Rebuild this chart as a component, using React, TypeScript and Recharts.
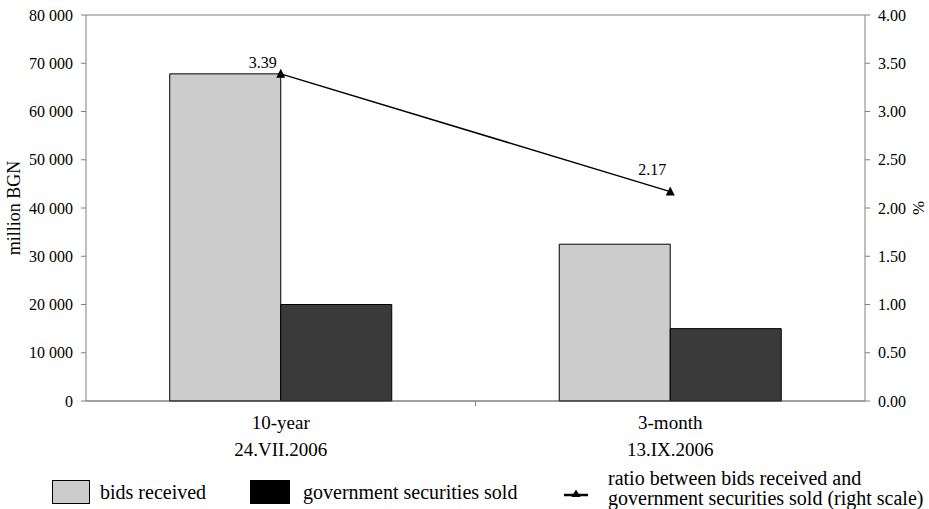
import { ComposedChart, Bar, Line, XAxis, YAxis, ReferenceLine, LabelList } from 'recharts';

const categories = ['10-year', '3-month'];
const auctionDates = ['24.VII.2006', '13.IX.2006'];
const bidsReceived = [67800, 32500];
const securitiesSold = [20000, 15000];
const bidRatio = [3.39, 2.17];
const leftTicks = [0, 10000, 20000, 30000, 40000, 50000, 60000, 70000, 80000];
const rightTicks = [0, 0.5, 1, 1.5, 2, 2.5, 3, 3.5, 4];

const data = categories.map((name, i) => ({
  name,
  date: auctionDates[i],
  bids: bidsReceived[i],
  sold: securitiesSold[i],
  ratio: bidRatio[i],
}));

const FONT = "'Liberation Serif', 'Times New Roman', Times, serif";
const AXIS_GREY = '#808080';

const fmtThousands = (v: number) => String(v).replace(/\B(?=(\d{3})+(?!\d))/g, ' ');

function CategoryTick(props: any) {
  const { x, y, payload, index, width } = props;
  const band = (width || 779) / categories.length;
  return (
    <g>
      {index === 0 && (
        <line x1={x + band / 2} x2={x + band / 2} y1={y} y2={y + 5} stroke={AXIS_GREY} />
      )}
      <text x={x} y={y + 28} textAnchor="middle" fontSize={19} style={{ fontFamily: FONT }} fill="#000">
        {payload.value}
      </text>
      <text x={x} y={y + 55} textAnchor="middle" fontSize={19} style={{ fontFamily: FONT }} fill="#000">
        {auctionDates[index]}
      </text>
    </g>
  );
}

function Triangle(props: any) {
  const { cx, cy } = props;
  if (cx == null || cy == null) return null;
  return <path d={`M${cx},${cy - 5}L${cx + 4.5},${cy + 4}L${cx - 4.5},${cy + 4}Z`} fill="#000" />;
}

const labelLift = [6, 17];

function RatioLabel(props: any) {
  const { x, y, value, index } = props;
  return (
    <text x={x - 18} y={y - labelLift[index]} textAnchor="middle" fontSize={16} style={{ fontFamily: FONT }} fill="#000">
      {Number(value).toFixed(2)}
    </text>
  );
}

function LegendBlock() {
  const txt: React.CSSProperties = { position: 'absolute', fontFamily: FONT, fontSize: 20, color: '#000', whiteSpace: 'nowrap', lineHeight: '20px' };
  return (
    <>
      <div style={{ position: 'absolute', left: 52, top: 480, width: 36, height: 22, background: '#cccccc', border: '1px solid #000' }} />
      <div style={{ ...txt, left: 100, top: 482 }}>bids received</div>
      <div style={{ position: 'absolute', left: 250, top: 480, width: 38, height: 22, background: '#000', border: '1px solid #000' }} />
      <div style={{ ...txt, left: 303, top: 482 }}>government securities sold</div>
      <svg style={{ position: 'absolute', left: 561, top: 486 }} width={30} height={16}>
        <line x1={3} x2={27} y1={9} y2={9} stroke="#000" strokeWidth={2.5} />
        <path d="M15,3.5L19.5,11L10.5,11Z" fill="#000" />
      </svg>
      <div style={{ ...txt, left: 608, top: 468 }}>ratio between bids received and</div>
      <div style={{ ...txt, left: 608, top: 488 }}>government securities sold (right scale)</div>
    </>
  );
}

export default function App() {
  return (
    <div style={{ position: 'absolute', left: 0, top: 0, width: 929, height: 509, background: '#fff', fontFamily: FONT }}>
      <ComposedChart
        width={929}
        height={509}
        data={data}
        margin={{ top: 15, right: 0, bottom: 48, left: 0 }}
        barCategoryGap="21.5%"
        barGap={0}
        style={{ fontFamily: FONT }}
      >
        <XAxis
          dataKey="name"
          height={60}
          stroke="#404040"
          tickLine={false}
          tickSize={0}
          tickMargin={0}
          tick={<CategoryTick />}
          interval={0}
        />
        <YAxis
          yAxisId="left"
          width={86}
          domain={[0, 80000]}
          ticks={leftTicks}
          tickFormatter={fmtThousands}
          stroke={AXIS_GREY}
          tickSize={5}
          tickMargin={8}
          tick={{ fill: '#000', fontSize: 16, style: { fontFamily: FONT } }}
          label={{ value: 'million BGN', angle: -90, position: 'insideLeft', offset: 0, dx: 14, style: { fill: '#000', fontSize: 18, fontFamily: FONT, textAnchor: 'middle' } }}
        />
        <YAxis
          yAxisId="right"
          orientation="right"
          width={64}
          domain={[0, 4]}
          ticks={rightTicks}
          tickFormatter={(v: number) => v.toFixed(2)}
          stroke={AXIS_GREY}
          tickSize={5}
          tickMargin={8}
          tick={{ fill: '#000', fontSize: 16, style: { fontFamily: FONT } }}
          label={{ value: '%', angle: -90, position: 'insideRight', offset: 0, dx: -11, style: { fill: '#000', fontSize: 17, fontFamily: FONT, textAnchor: 'middle' } }}
        />
        <ReferenceLine yAxisId="left" y={80000} stroke={AXIS_GREY} />
        <Bar yAxisId="left" dataKey="bids" fill="#cccccc" stroke="#000" strokeWidth={1} isAnimationActive={false} />
        <Bar yAxisId="left" dataKey="sold" fill="#3a3a3a" stroke="#000" strokeWidth={1} isAnimationActive={false} />
        <Line
          yAxisId="right"
          dataKey="ratio"
          stroke="#000"
          strokeWidth={1.5}
          dot={<Triangle />}
          activeDot={false}
          isAnimationActive={false}
        >
          <LabelList dataKey="ratio" content={<RatioLabel />} />
        </Line>
      </ComposedChart>
      <LegendBlock />
    </div>
  );
}
